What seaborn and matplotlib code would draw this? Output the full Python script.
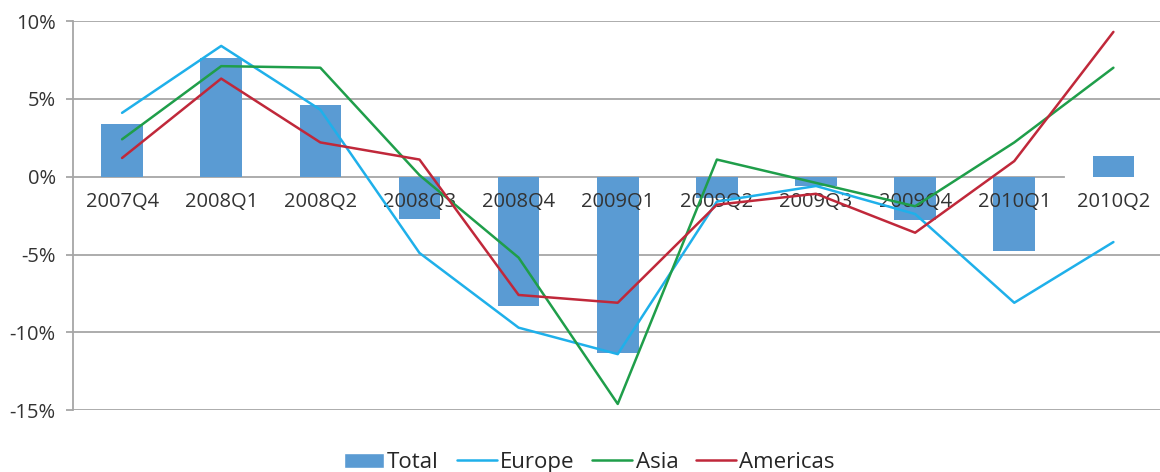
import numpy as np
import pandas as pd
import seaborn as sns
import matplotlib.pyplot as plt
from matplotlib.patches import Patch
from matplotlib.lines import Line2D

quarters = ["2007Q4", "2008Q1", "2008Q2", "2008Q3", "2008Q4", "2009Q1",
            "2009Q2", "2009Q3", "2009Q4", "2010Q1", "2010Q2"]
total = [3.4, 7.6, 4.6, -2.7, -8.3, -11.3, -1.35, -0.6, -2.8, -4.8, 1.35]
europe = [4.1, 8.4, 4.3, -4.9, -9.7, -11.4, -1.6, -0.6, -2.4, -8.1, -4.2]
asia = [2.4, 7.1, 7.0, 0.1, -5.2, -14.6, 1.1, -0.4, -1.9, 2.2, 7.0]
americas = [1.2, 6.3, 2.2, 1.1, -7.6, -8.1, -1.8, -1.1, -3.6, 1.0, 9.3]
y_ticks = [-15, -10, -5, 0, 5, 10]

region_names = ["Europe", "Asia", "Americas"]
region_colors = ["#1fb0ea", "#1f9e4a", "#c0283a"]
bar_color = "#5a9bd3"
grid_color = "#a6a6a6"

sns.set_theme(style="white")
plt.rcParams['font.family'] = ['Open Sans', 'DejaVu Sans']

fig = plt.figure(figsize=(11.6, 4.72), dpi=100)
ax = fig.add_axes([0.0625, 0.131, 0.9375, 0.8245])

# horizontal gridlines behind everything
for v in y_ticks:
    if v != 0:
        ax.axhline(v, color=grid_color, linewidth=1.3, zorder=0.3)

# bars for the total
bars = pd.DataFrame({"quarter": quarters, "value": total})
sns.barplot(data=bars, x="quarter", y="value", color=bar_color,
            saturation=1, width=0.42, edgecolor="none", linewidth=0, ax=ax)

# lines for the regions
lines = pd.DataFrame({
    "pos": np.tile(np.arange(len(quarters)), 3),
    "value": europe + asia + americas,
    "region": np.repeat(region_names, len(quarters)),
})
sns.lineplot(data=lines, x="pos", y="value", hue="region",
             hue_order=region_names, palette=region_colors,
             linewidth=1.8, legend=False, ax=ax, zorder=4)

ax.set_xlim(-0.5, len(quarters) - 0.53)
ax.set_ylim(-15, 10)
ax.set_yticks(y_ticks)
ax.set_yticklabels([f"{v}%" for v in y_ticks])
ax.grid(False)
ax.set_axisbelow(False)
ax.set_xlabel("")
ax.set_ylabel("")

# category axis sits on the zero line
ax.spines['bottom'].set_position(('data', 0))
ax.spines['bottom'].set_bounds(-0.5, 9.5)
ax.spines['bottom'].set_color(grid_color)
ax.spines['bottom'].set_linewidth(1.3)
ax.spines['bottom'].set_zorder(0.5)
ax.spines['left'].set_color(grid_color)
ax.spines['left'].set_linewidth(1.3)
ax.spines['top'].set_visible(False)
ax.spines['right'].set_visible(False)

ax.set_xticks(np.arange(len(quarters)))
ax.set_xticklabels(quarters)
ax.set_xticks(np.arange(0.5, 9.6, 1), minor=True)
ax.tick_params(axis='x', which='major', length=0, pad=11, labelsize=14.5,
               labelcolor="#333333")
ax.tick_params(axis='x', which='minor', length=5, width=1.3, color=grid_color,
               direction='out')
ax.tick_params(axis='y', length=5, width=1.3, color=grid_color, left=True,
               labelsize=14.5, labelcolor="#333333", pad=7)

handles = [Patch(facecolor=bar_color, label="Total")]
for name, col in zip(region_names, region_colors):
    handles.append(Line2D([0], [0], color=col, linewidth=1.8, label=name))
fig.legend(handles=handles, loc="center", bbox_to_anchor=(0.508, 0.02),
           ncol=4, frameon=False, fontsize=16, handlelength=1.8,
           handletextpad=0.15, columnspacing=0.8)

fig.savefig("out.png", dpi=100)
